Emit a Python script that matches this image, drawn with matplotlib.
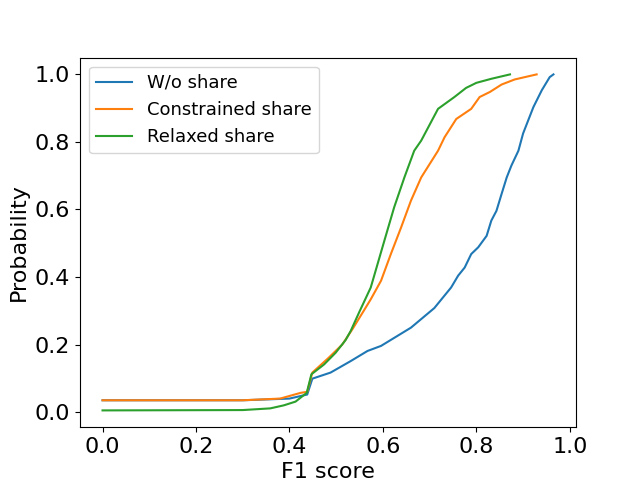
import matplotlib
matplotlib.use("Agg")
import matplotlib.pyplot as plt

# CDF curves
wo_x = [0.0, 0.30, 0.40, 0.438, 0.449, 0.488, 0.531, 0.567, 0.596, 0.628, 0.660, 0.710,
        0.746, 0.761, 0.775, 0.789, 0.804, 0.822, 0.832, 0.843, 0.854, 0.865, 0.875,
        0.890, 0.900, 0.922, 0.940, 0.957, 0.965]
wo_y = [0.035, 0.035, 0.04, 0.052, 0.099, 0.117, 0.151, 0.181, 0.196, 0.223, 0.250, 0.308,
        0.369, 0.404, 0.428, 0.468, 0.488, 0.522, 0.567, 0.596, 0.646, 0.695, 0.730,
        0.774, 0.825, 0.903, 0.953, 0.992, 1.0]

con_x = [0.0, 0.30, 0.38, 0.424, 0.438, 0.449, 0.484, 0.513, 0.535, 0.559, 0.574, 0.596,
         0.617, 0.639, 0.660, 0.682, 0.718, 0.732, 0.757, 0.789, 0.807, 0.829, 0.854, 0.882, 0.929]
con_y = [0.035, 0.035, 0.04, 0.057, 0.06, 0.117, 0.161, 0.20, 0.246, 0.30, 0.334, 0.389,
         0.468, 0.547, 0.626, 0.695, 0.774, 0.814, 0.868, 0.898, 0.933, 0.948, 0.970, 0.985, 1.0]

rel_x = [0.0, 0.30, 0.359, 0.388, 0.413, 0.437, 0.447, 0.474, 0.499, 0.520, 0.531, 0.549,
         0.574, 0.603, 0.624, 0.646, 0.667, 0.682, 0.718, 0.753, 0.778, 0.80, 0.832, 0.872]
rel_y = [0.005, 0.006, 0.011, 0.02, 0.031, 0.057, 0.112, 0.141, 0.176, 0.213, 0.24, 0.295,
         0.369, 0.507, 0.606, 0.695, 0.774, 0.804, 0.898, 0.933, 0.960, 0.975, 0.987, 1.0]

fig, ax = plt.subplots(figsize=(6.4, 4.8), dpi=100)
ax.plot(wo_x, wo_y, color='tab:blue', label='W/o share')
ax.plot(con_x, con_y, color='tab:orange', label='Constrained share')
ax.plot(rel_x, rel_y, color='tab:green', label='Relaxed share')

ax.set_xlabel('F1 score', fontsize=16)
ax.set_ylabel('Probability', fontsize=16)
ax.tick_params(labelsize=16)
ax.legend(loc='upper left', fontsize=13)

fig.savefig('out.png')
